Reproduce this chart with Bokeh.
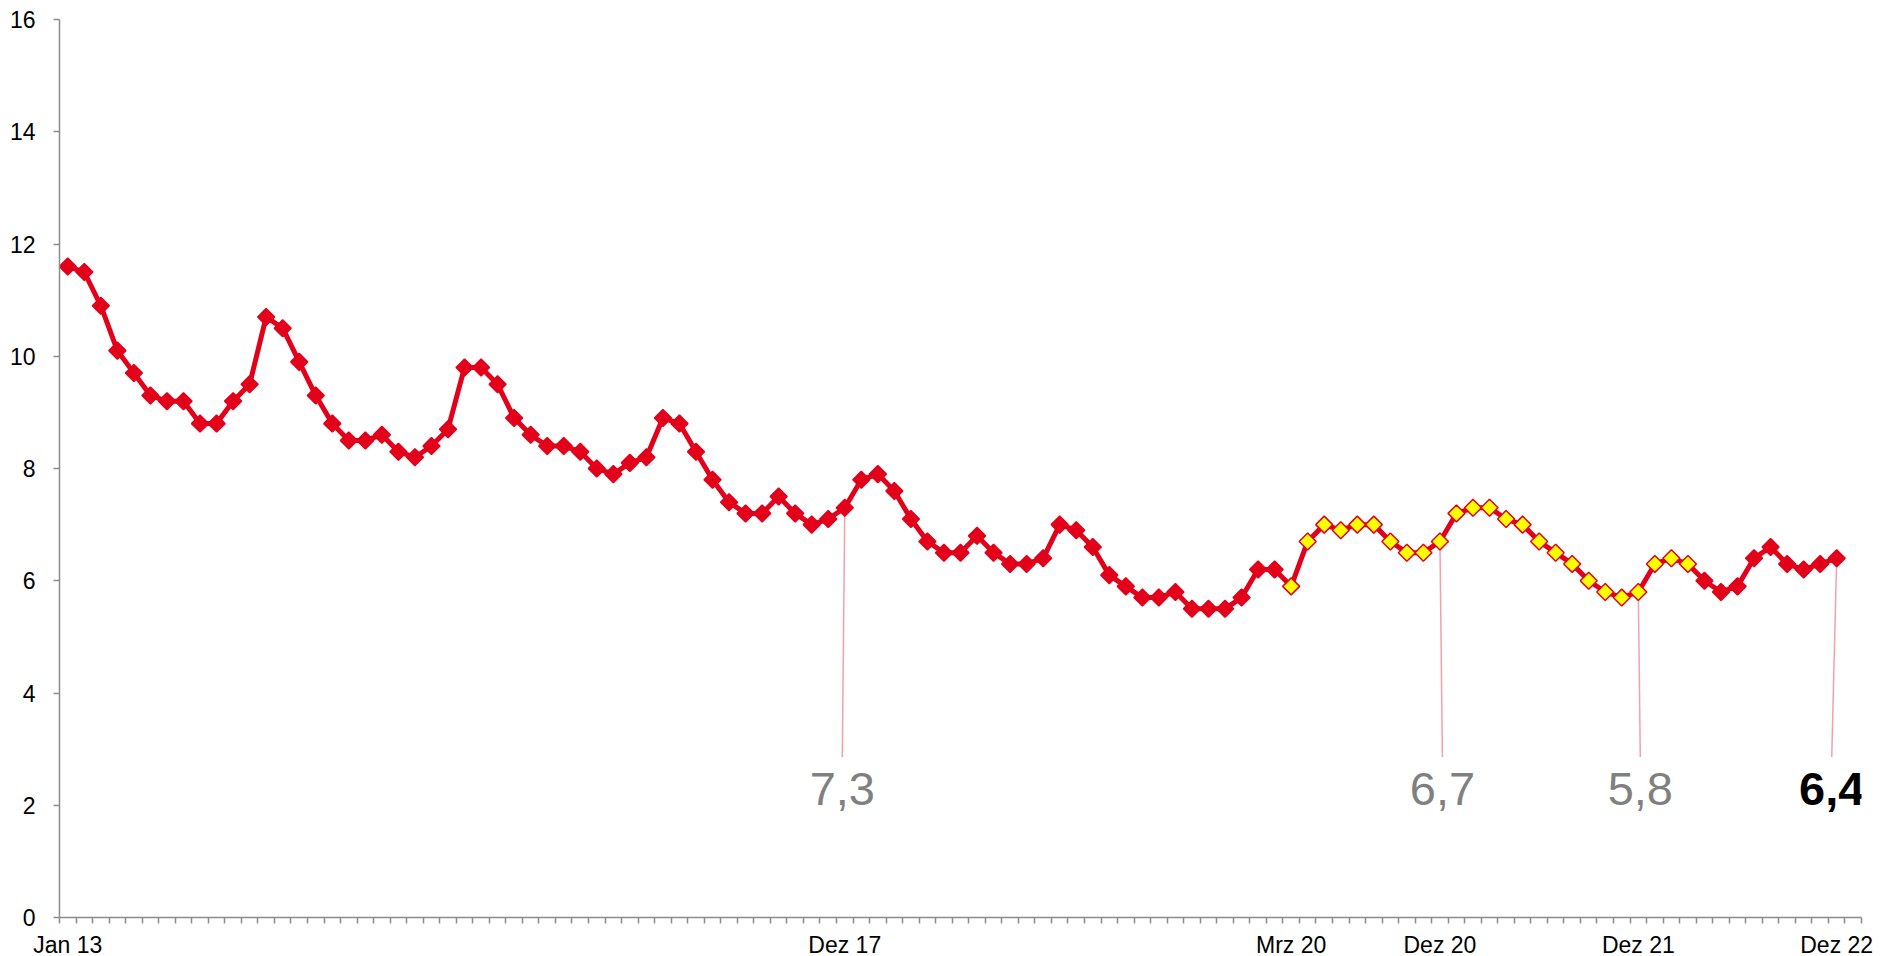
import math
from bokeh.plotting import figure
from bokeh.models import Range1d, FixedTicker, ColumnDataSource
from bokeh.core.properties import value
from bokeh.embed import file_html
from bokeh.resources import INLINE

# ---------------- data ----------------
values = [
    11.6, 11.5, 10.9, 10.1, 9.7, 9.3, 9.2, 9.2, 8.8, 8.8,
    9.2, 9.5, 10.7, 10.5, 9.9, 9.3, 8.8, 8.5, 8.5, 8.6,
    8.3, 8.2, 8.4, 8.7, 9.8, 9.8, 9.5, 8.9, 8.6, 8.4,
    8.4, 8.3, 8.0, 7.9, 8.1, 8.2, 8.9, 8.8, 8.3, 7.8,
    7.4, 7.2, 7.2, 7.5, 7.2, 7.0, 7.1, 7.3, 7.8, 7.9,
    7.6, 7.1, 6.7, 6.5, 6.5, 6.8, 6.5, 6.3, 6.3, 6.4,
    7.0, 6.9, 6.6, 6.1, 5.9, 5.7, 5.7, 5.8, 5.5, 5.5,
    5.5, 5.7, 6.2, 6.2, 5.9, 6.7, 7.0, 6.9, 7.0, 7.0,
    6.7, 6.5, 6.5, 6.7, 7.2, 7.3, 7.3, 7.1, 7.0, 6.7,
    6.5, 6.3, 6.0, 5.8, 5.7, 5.8, 6.3, 6.4, 6.3, 6.0,
    5.8, 5.9, 6.4, 6.6, 6.3, 6.2, 6.3, 6.4,
]
n_categories = 109  # one trailing empty category slot on the axis

tick_positions = [0, 47, 74, 83, 95, 107]
tick_labels = ["Jan 13", "Dez 17", "Mrz 20", "Dez 20", "Dez 21", "Dez 22"]

highlight_first = 74   # Mrz 20
highlight_last = 98

annot_idx = [47, 83, 95, 107]
annot_dx = [-0.15, 0.15, 0.12, -0.3]

# ---------------- styles ----------------
RED = "#e2001a"
YELLOW = "#ffff00"
AXIS = "#8c8c8c"
FONT = "Liberation Sans"

xs = list(range(len(values)))
fills = [YELLOW if highlight_first <= i <= highlight_last else RED for i in xs]

p = figure(
    frame_width=1802, frame_height=898,
    min_border_left=59, min_border_right=20, min_border_top=19, min_border_bottom=36,
    x_range=Range1d(-0.5, n_categories - 0.5), y_range=Range1d(0, 16),
    output_backend="svg", toolbar_location=None,
)
p.outline_line_color = None
p.grid.visible = False
p.background_fill_color = "white"
p.border_fill_color = "white"

# x axis
p.xaxis.ticker = FixedTicker(ticks=tick_positions,
                             minor_ticks=[i - 0.5 for i in range(n_categories + 1)])
p.xaxis.major_label_overrides = {t: l for t, l in zip(tick_positions, tick_labels)}
p.xaxis.major_tick_out = 0
p.xaxis.major_tick_in = 0
p.xaxis.minor_tick_out = 6
p.xaxis.minor_tick_in = 0
p.xaxis.major_label_standoff = 8

# y axis
p.yaxis.ticker = FixedTicker(ticks=list(range(0, 17, 2)))
p.yaxis.major_tick_out = 6
p.yaxis.major_tick_in = 0
p.yaxis.minor_tick_out = 0
p.yaxis.minor_tick_in = 0
p.yaxis.major_label_standoff = 18

for ax in (p.xaxis, p.yaxis):
    ax.axis_line_color = AXIS
    ax.axis_line_width = 1.5
    ax.major_tick_line_color = AXIS
    ax.major_tick_line_width = 1.5
    ax.minor_tick_line_color = AXIS
    ax.minor_tick_line_width = 1.5
    ax.major_label_text_font = FONT
    ax.major_label_text_font_size = "23px"
    ax.major_label_text_color = "black"

src = ColumnDataSource(dict(x=xs, y=values, fill=fills))

# annotation lines (drawn beneath)
ann_x0 = annot_idx
ann_y0 = [values[i] for i in annot_idx]
ann_x1 = [i + d for i, d in zip(annot_idx, annot_dx)]
p.segment(x0=ann_x0, y0=ann_y0, x1=ann_x1, y1=[2.86] * len(annot_idx),
          line_color="#f4a0aa", line_width=1.5)

p.line("x", "y", source=src, line_color=RED, line_width=5, line_join="round")
p.scatter("x", "y", source=src, marker="square", angle=math.pi / 4, size=12,
          fill_color="fill", line_color=RED, line_width=1.5)

labels = [f"{values[i]:.1f}".replace(".", ",") for i in annot_idx]
p.text(x=ann_x1[:-1], y=[2.29] * (len(annot_idx) - 1), text=labels[:-1],
       text_font=value(FONT), text_font_size="47px", text_align="center",
       text_baseline="middle", text_color="#808080")
p.text(x=ann_x1[-1:], y=[2.29], text=labels[-1:],
       text_font=value(FONT), text_font_size="47px", text_font_style="bold",
       text_align="center", text_baseline="middle", text_color="black")

open("out.html", "w").write(file_html(p, INLINE))
